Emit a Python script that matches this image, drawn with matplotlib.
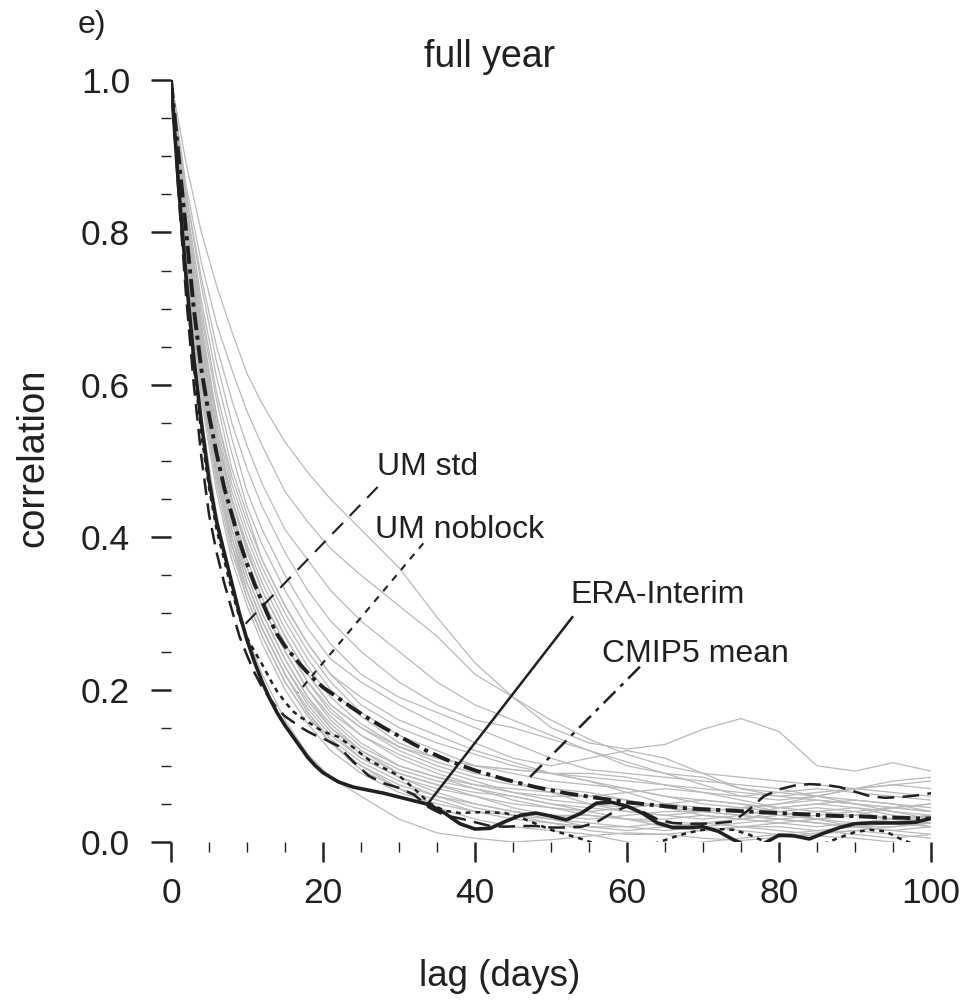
import numpy as np
import matplotlib
matplotlib.use("Agg")
from matplotlib import pyplot as plt

plt.rcParams['font.family'] = ['Liberation Sans', 'DejaVu Sans']
plt.rcParams['lines.scale_dashes'] = False

# lag grid for the highlighted curves: daily to day 20, then every 2 days
lag = list(range(0, 21)) + list(range(22, 101, 2))

era_interim = [1.0, .86, .74, .635, .55, .475, .42, .38, .34, .30, .265, .236, .21, .188, .169, .153, .139, .125, .111, .100, .091,
               .079, .072, .068, .064, .059, .054, .049, .038, .024, .017, .018, .027, .035, .038, .034, .029, .038, .051, .052, .047,
               .038, .025, .019, .019, .020, .014, .003, -.006, -.002, .009, .008, .004, .012, .019, .024, .025, .025, .025, .026, .031]

cmip5_mean = [1.0, .90, .80, .70, .62, .56, .51, .465, .43, .395, .365, .338, .315, .292, .272, .257, .245, .233, .222, .212, .203,
              .189, .175, .162, .150, .139, .128, .118, .109, .101, .094, .088, .082, .077, .072, .068, .064, .061, .058, .055, .052,
              .050, .048, .046, .044, .043, .042, .041, .040, .039, .038, .037, .036, .035, .034, .034, .033, .032, .032, .031, .031]

um_std = [1.0, .85, .715, .60, .505, .43, .38, .34, .305, .27, .245, .222, .203, .188, .175, .165, .158, .151, .145, .140, .136,
          .126, .105, .087, .077, .071, .062, .045, .035, .031, .026, .021, .020, .021, .021, .019, .019, .020, .026, .038, .047,
          .040, .030, .025, .024, .024, .025, .027, .042, .060, .069, .074, .076, .075, .072, .066, .060, .058, .059, .061, .064]

um_noblock = [1.0, .86, .735, .625, .535, .465, .41, .37, .33, .295, .268, .25, .233, .214, .197, .184, .172, .164, .158, .151, .145,
              .138, .124, .108, .097, .087, .070, .051, .041, .038, .039, .039, .038, .032, .024, .016, .010, .004, -.003, -.008, -.010,
              -.006, -.001, .006, .012, .016, .017, .016, .010, .001, -.005, -.008, -.006, -.002, .006, .013, .016, .014, .004, -.004, -.010]

# individual CMIP5 models
lag_models = [0, 2, 4, 6, 8, 10, 12, 15, 18, 21, 25, 30, 35, 40, 45, 50, 55, 60, 65, 70, 75, 80, 85, 90, 95, 100]
models = [
    [1, .89, .80, .73, .67, .615, .575, .525, .485, .45, .41, .36, .295, .235, .19, .15, .13, .122, .128, .148, .162, .145, .10, .093, .104, .093],
    [1, .86, .76, .68, .62, .565, .52, .46, .42, .385, .35, .31, .27, .22, .19, .16, .135, .115, .10, .09, .085, .08, .075, .07, .075, .08],
    [1, .85, .74, .65, .58, .52, .47, .41, .37, .33, .29, .25, .21, .18, .16, .14, .12, .10, .09, .085, .07, .06, .055, .05, .045, .05],
    [1, .85, .73, .63, .55, .49, .44, .38, .33, .29, .25, .21, .18, .16, .15, .135, .12, .105, .09, .075, .06, .055, .06, .07, .065, .06],
    [1, .84, .71, .61, .53, .46, .41, .35, .30, .26, .22, .19, .17, .15, .13, .11, .095, .09, .085, .08, .075, .07, .06, .05, .045, .04],
    [1, .83, .70, .59, .51, .44, .39, .33, .28, .24, .21, .18, .155, .13, .11, .10, .11, .12, .11, .09, .07, .065, .06, .07, .08, .085],
    [1, .83, .69, .58, .49, .43, .37, .31, .26, .22, .19, .16, .14, .12, .105, .09, .08, .07, .06, .055, .05, .045, .05, .055, .05, .045],
    [1, .82, .68, .56, .47, .41, .36, .30, .25, .21, .17, .14, .12, .10, .09, .08, .075, .07, .06, .05, .045, .05, .06, .055, .05, .04],
    [1, .82, .67, .55, .46, .40, .35, .29, .24, .20, .165, .13, .11, .10, .095, .09, .08, .065, .05, .04, .035, .03, .035, .04, .045, .04],
    [1, .81, .66, .54, .45, .39, .34, .28, .23, .19, .155, .125, .105, .09, .08, .065, .06, .065, .07, .065, .055, .045, .04, .035, .03, .03],
    [1, .81, .66, .54, .45, .385, .33, .27, .22, .18, .15, .12, .10, .085, .075, .07, .065, .055, .045, .04, .045, .05, .055, .05, .04, .035],
    [1, .80, .65, .53, .44, .37, .32, .26, .21, .175, .14, .115, .095, .08, .065, .055, .05, .045, .05, .055, .05, .04, .03, .025, .03, .035],
    [1, .80, .64, .52, .43, .37, .32, .26, .21, .17, .14, .11, .09, .075, .065, .06, .06, .055, .045, .035, .03, .035, .04, .045, .04, .03],
    [1, .80, .64, .52, .43, .36, .31, .25, .20, .165, .13, .10, .085, .075, .07, .065, .05, .04, .035, .03, .035, .045, .05, .045, .035, .025],
    [1, .79, .63, .51, .42, .36, .31, .25, .20, .16, .125, .10, .085, .07, .06, .05, .045, .04, .035, .04, .045, .04, .03, .02, .015, .02],
    [1, .79, .63, .51, .42, .35, .30, .24, .19, .155, .12, .095, .08, .07, .055, .045, .04, .045, .05, .045, .04, .035, .03, .035, .045, .05],
    [1, .79, .62, .50, .41, .35, .30, .24, .19, .15, .12, .09, .075, .06, .05, .045, .035, .03, .03, .035, .03, .025, .02, .025, .03, .035],
    [1, .78, .62, .50, .41, .34, .29, .23, .185, .15, .115, .09, .075, .065, .06, .05, .04, .03, .025, .025, .03, .04, .045, .04, .03, .02],
    [1, .78, .61, .49, .40, .34, .29, .23, .18, .145, .11, .085, .07, .06, .045, .035, .03, .035, .04, .04, .035, .03, .025, .02, .02, .025],
    [1, .78, .61, .49, .40, .33, .28, .22, .175, .14, .11, .085, .065, .05, .04, .035, .035, .03, .02, .015, .02, .025, .03, .035, .03, .025],
    [1, .77, .60, .48, .39, .33, .28, .22, .17, .135, .105, .08, .06, .045, .035, .03, .025, .02, .015, .02, .025, .03, .025, .02, .015, .01],
    [1, .77, .60, .48, .39, .32, .27, .21, .165, .13, .10, .075, .06, .05, .04, .03, .02, .015, .02, .025, .02, .015, .01, .015, .02, .025],
    [1, .77, .59, .47, .38, .32, .27, .21, .165, .13, .095, .07, .055, .04, .03, .025, .02, .02, .025, .02, .015, .01, .015, .02, .025, .02],
    [1, .76, .58, .46, .37, .31, .26, .20, .155, .12, .09, .065, .05, .04, .035, .025, .015, .01, .01, .015, .02, .02, .015, .01, .005, .01],
    [1, .75, .56, .43, .34, .27, .22, .16, .115, .085, .06, .03, .012, .005, .0, .003, .008, .012, .01, .005, .002, .006, .012, .015, .01, .005],
    [1, .77, .60, .48, .39, .33, .28, .22, .17, .13, .10, .07, .045, .03, .02, .015, .01, .0, -.005, .0, .005, .01, .008, .005, .0, -.005],
    [1, .80, .65, .53, .45, .38, .33, .27, .22, .18, .15, .125, .11, .10, .095, .09, .085, .08, .075, .07, .065, .06, .065, .07, .075, .07],
    [1, .81, .67, .56, .48, .42, .37, .31, .26, .22, .18, .15, .13, .115, .10, .09, .09, .085, .075, .065, .06, .065, .07, .065, .06, .055],
]

# label text, text anchor (lag, corr), leader line start and end
labels = ["UM std", "UM noblock", "ERA-Interim", "CMIP5 mean"]
label_xy = [(27.1, 0.481), (26.8, 0.399), (52.5, 0.314), (56.7, 0.236)]
leader_from = [(27.2, 0.466), (33.2, 0.392), (52.8, 0.295), (61.7, 0.230)]
leader_to = [(8.8, 0.276), (16.7, 0.196), (33.7, 0.049), (46.8, 0.081)]

ink = '#231f20'
styles = {
    "UM std": dict(ls=(0, (12, 6)), lw=1.8),
    "UM noblock": dict(ls=(0, (3.5, 3.5)), lw=1.8),
    "ERA-Interim": dict(ls='-', lw=2.6),
    "CMIP5 mean": dict(ls=(0, (13, 4, 3, 4)), lw=2.8),
}
leader_styles = {
    "UM std": dict(ls=(0, (11, 7)), lw=1.5),
    "UM noblock": dict(ls=(0, (5, 5)), lw=1.5),
    "ERA-Interim": dict(ls='-', lw=1.8),
    "CMIP5 mean": dict(ls=(0, (12, 5, 3, 5)), lw=1.8),
}

fig = plt.figure(figsize=(9.6, 10.01), dpi=100)
ax = fig.add_axes([171 / 960, 1 - 842 / 1001, 760 / 960, 762 / 1001])

for m in models:
    ax.plot(lag_models, m, color='#b9b9b9', lw=0.9, zorder=1)

series = {"UM noblock": um_noblock, "UM std": um_std, "CMIP5 mean": cmip5_mean, "ERA-Interim": era_interim}
for z, (name, vals) in enumerate(series.items()):
    ax.plot(lag, vals, color=ink, solid_capstyle='butt', dash_capstyle='butt', zorder=3 + z, **styles[name])

for name, txy, p0, p1 in zip(labels, label_xy, leader_from, leader_to):
    ax.plot([p0[0], p1[0]], [p0[1], p1[1]], color=ink, zorder=8, dash_capstyle='butt', **leader_styles[name])
    ax.text(txy[0], txy[1], name, fontsize=23, color=ink, ha='left', va='baseline')

ax.set_xlim(0, 100)
ax.set_ylim(0, 1)
for s in ax.spines.values():
    s.set_visible(False)

ax.set_xticks(range(0, 101, 20))
ax.set_xticks(range(0, 101, 5), minor=True)
ax.set_yticks(np.arange(0, 1.01, 0.2))
ax.set_yticks(np.arange(0, 1.01, 0.05), minor=True)
ax.set_yticklabels(["%.1f" % v for v in np.arange(0, 1.01, 0.2)])
ax.tick_params(which='major', length=14.5, width=1.8, color=ink, labelsize=25.5, labelcolor=ink)
ax.tick_params(which='minor', length=7.5, width=1.0, color=ink)
ax.tick_params(axis='y', which='major', pad=15)
ax.tick_params(axis='x', which='major', pad=11)

fig.text(33 / 960, 1 - 458 / 1001, "correlation", rotation=90, fontsize=27.5, color=ink, ha='center', va='center')
fig.text(500 / 960, 1 - 977 / 1001, "lag (days)", fontsize=26.5, color=ink, ha='center', va='center')
fig.text(490 / 960, 1 - 57 / 1001, "full year", fontsize=27, color=ink, ha='center', va='center')
fig.text(78 / 960, 1 - 25 / 1001, "e)", fontsize=23, color=ink, ha='left', va='center')

fig.savefig("out.png", dpi=100)
